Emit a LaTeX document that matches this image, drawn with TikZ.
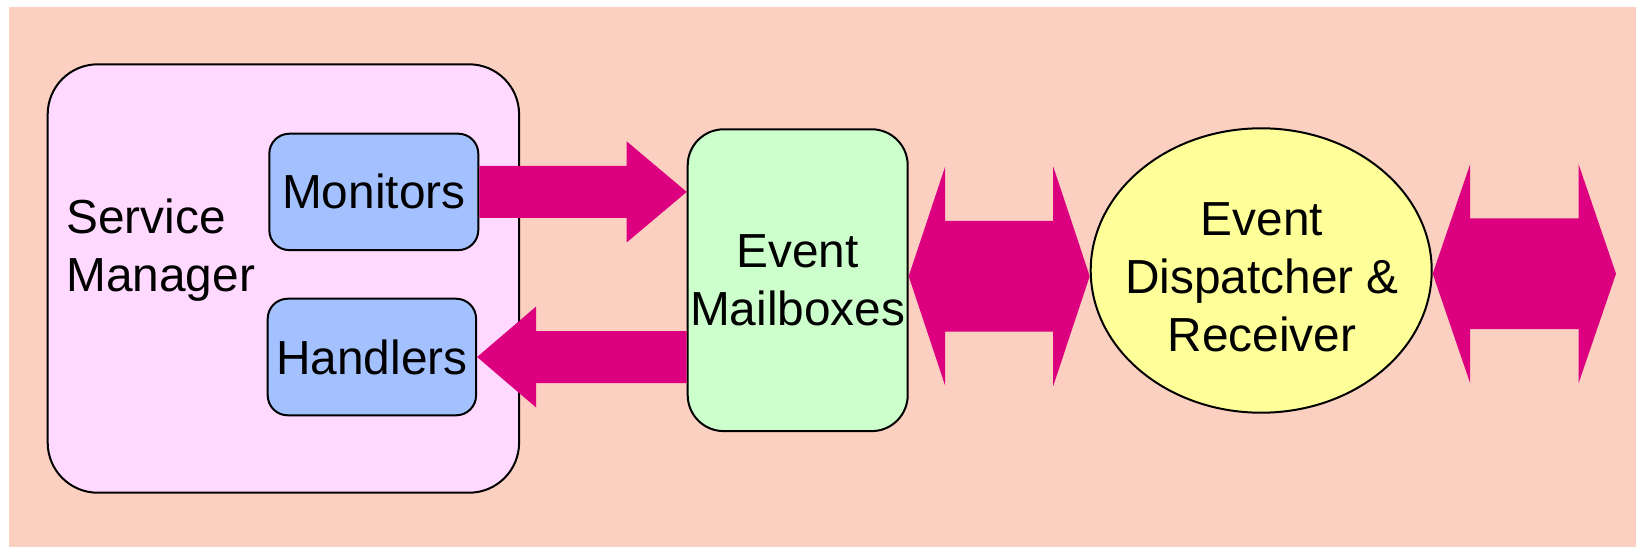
\documentclass[tikz,border=0pt]{standalone}
\usepackage{fontspec}
\setmainfont{Liberation Sans}
\usepackage{xcolor}
\usepackage{tikz}
\usetikzlibrary{positioning,calc,shapes.geometric}

\definecolor{bgsalmon}{HTML}{FCD0C0}
\definecolor{smpink}{HTML}{FFD9FF}
\definecolor{partblue}{HTML}{A3C0FF}
\definecolor{mailgreen}{HTML}{CCFFCC}
\definecolor{dispyellow}{HTML}{FFFF99}
\definecolor{arrowmag}{HTML}{DC0080}

\begin{document}
\begin{tikzpicture}[x=0.5pt,y=-0.5pt,
  txt/.style={font=\fontsize{23.9}{29}\selectfont, align=center},
  box/.style={draw=black, line width=1pt, inner sep=0pt, txt},
  fatarrow/.style={fill=arrowmag}]
\useasboundingbox (0,0) rectangle (1636,547);
\fill[white] (0,0) rectangle (1636,547);
\fill[bgsalmon] (9,7) rectangle (1636,547);

\node[box, fill=smpink, rounded corners=25pt, minimum width=235.7pt, minimum height=214.2pt] (sm) at (283.4,278.5) {};
\node[txt, align=left, anchor=north west, inner sep=0pt] (smlabel) at (66,198) {Service\\Manager};
\node[box, fill=partblue, rounded corners=10pt, minimum width=104.5pt, minimum height=58.2pt] (mon) at (373.8,191.9) {Monitors};
\node[box, fill=partblue, rounded corners=10pt, minimum width=104.2pt, minimum height=58.3pt] (han) at (371.9,357) {Handlers};
\node[box, fill=mailgreen, rounded corners=18pt, minimum width=110pt, minimum height=150.9pt] (mail) at (797.7,280.2) {Event\\Mailboxes};
\node[box, ellipse, fill=dispyellow, minimum width=170.5pt, minimum height=142.2pt] (disp) at (1261.2,270.5) {};
\node[txt, inner sep=0pt] (displabel) at (1262,277) {Event\\Dispatcher \&\\Receiver};

% monitors to mailboxes, mailboxes to handlers
\fill[fatarrow] ($(mon.east)+(0,-26)$) -- ($(mail.west |- mon.east)+(-60,-26)$) -- ++(0,-24.5) -- (mail.west |- mon.east) -- ++(-60,50.5) -- ++(0,-24.5) -- ($(mon.east)+(0,26)$) -- cycle;
\fill[fatarrow] ($(mail.west |- han.east)+(0,-26)$) -- ($(han.east)+(59,-26)$) -- ++(0,-24.5) -- (han.east) -- ++(59,50.5) -- ++(0,-24.5) -- ($(mail.west |- han.east)+(0,26)$) -- cycle;

% both ways
\coordinate (ml) at ($(mail.east)+(0,-4)$);
\coordinate (dl) at (disp.west |- ml);
\fill[fatarrow] (ml) -- ++(36.5,-109.7) -- ++(0,54.4) -- ($(dl)+(-36.5,-55.3)$) -- ++(0,-54.4) -- (dl) -- ++(-36.5,109.7) -- ++(0,-54.4) -- ($(ml)+(36.5,55.3)$) -- ++(0,54.4) -- cycle;
\coordinate (dr) at ($(disp.east)+(0,3.2)$);
\coordinate (out) at (1616,273.7);
\fill[fatarrow] (dr) -- ++(37.5,-109.7) -- ++(0,54.4) -- ($(out)+(-37.5,-55.3)$) -- ++(0,-54.4) -- (out) -- ++(-37.5,109.7) -- ++(0,-54.4) -- ($(dr)+(37.5,55.3)$) -- ++(0,54.4) -- cycle;
\end{tikzpicture}
\end{document}
